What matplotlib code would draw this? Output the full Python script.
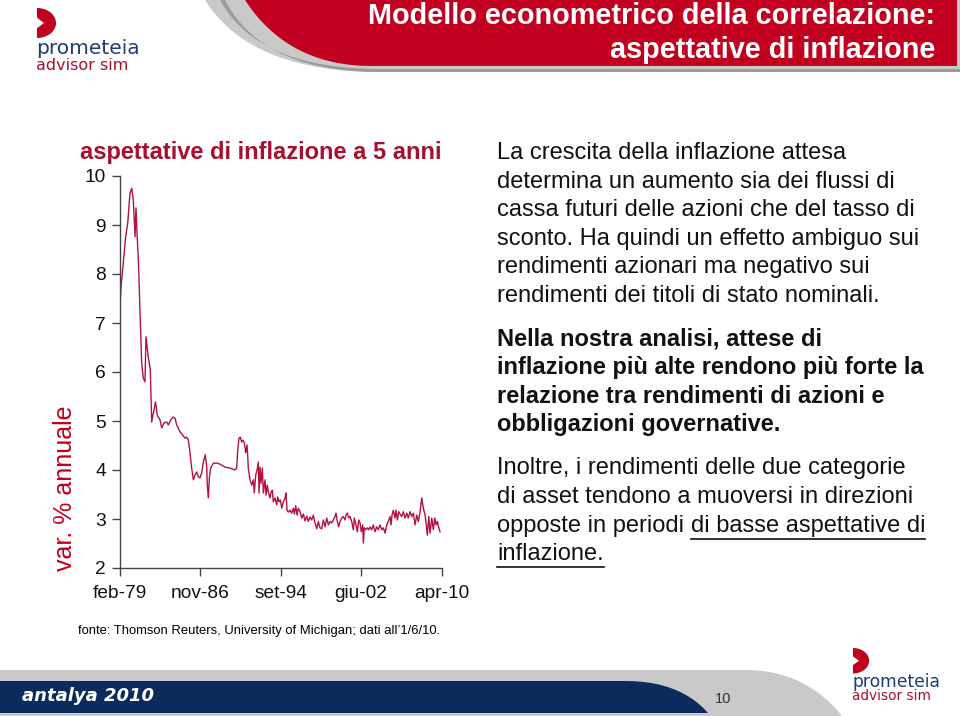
import matplotlib
matplotlib.use("Agg")
import matplotlib.pyplot as plt
import numpy as np
from matplotlib.patches import Polygon, Ellipse, Rectangle

plt.rcParams['font.family'] = ['Liberation Sans', 'DejaVu Sans']

# ---------------- data ----------------
years = [
    1979.08, 1979.18, 1979.40, 1979.63, 1979.83, 1980.05, 1980.22, 1980.37, 1980.54, 1980.63,
    1980.73, 1980.86, 1981.05, 1981.18, 1981.34, 1981.50, 1981.60, 1981.82, 1982.02, 1982.15,
    1982.37, 1982.52, 1982.69, 1982.96, 1983.12, 1983.34, 1983.60, 1983.76, 1983.99, 1984.24,
    1984.41, 1984.57, 1984.89, 1985.15, 1985.38, 1985.54, 1985.70, 1985.86, 1986.02, 1986.18,
    1986.34, 1986.51, 1986.66, 1986.83, 1986.99, 1987.15, 1987.34, 1987.48, 1987.53, 1987.63,
    1987.73, 1987.86, 1988.12, 1988.44, 1988.76, 1989.25, 1989.73, 1990.22, 1990.38, 1990.48,
    1990.60, 1990.73, 1990.86, 1990.99, 1991.12, 1991.25, 1991.38, 1991.45, 1991.50, 1991.67,
    1991.83, 1991.99, 1992.08, 1992.22, 1992.35, 1992.47, 1992.54, 1992.64, 1992.73, 1992.86,
    1992.96, 1993.12, 1993.22, 1993.34, 1993.44, 1993.60, 1993.70, 1993.83, 1993.92, 1994.09,
    1994.25, 1994.35, 1994.48, 1994.60, 1994.74, 1994.89, 1995.06, 1995.15, 1995.25, 1995.38,
    1995.54, 1995.70, 1995.86, 1995.96, 1996.09, 1996.22, 1996.34, 1996.51, 1996.67, 1996.83,
    1996.99, 1997.16, 1997.31, 1997.48, 1997.64, 1997.80, 1997.96, 1998.13, 1998.28, 1998.44,
    1998.61, 1998.76, 1998.93, 1999.09, 1999.25, 1999.41, 1999.58, 1999.73, 1999.90, 1999.99,
    2000.12, 2000.25, 2000.38, 2000.55, 2000.70, 2000.86, 2000.96, 2001.09, 2001.22, 2001.35,
    2001.51, 2001.67, 2001.77, 2001.93, 2002.06, 2002.19, 2002.32, 2002.44, 2002.58, 2002.64,
    2002.73, 2002.90, 2003.02, 2003.16, 2003.28, 2003.45, 2003.60, 2003.77, 2003.93, 2004.09,
    2004.25, 2004.42, 2004.57, 2004.74, 2004.90, 2005.06, 2005.22, 2005.32, 2005.41, 2005.54,
    2005.70, 2005.80, 2005.93, 2006.06, 2006.19, 2006.35, 2006.51, 2006.67, 2006.84, 2006.99,
    2007.16, 2007.32, 2007.48, 2007.64, 2007.81, 2007.96, 2008.13, 2008.29, 2008.44, 2008.61,
    2008.71, 2008.83, 2008.97, 2009.09, 2009.26, 2009.41, 2009.55, 2009.67, 2009.80, 2009.94,
    2010.06,
]
expectations = [
    7.31, 7.73, 8.22, 8.76, 9.04, 9.65, 9.75, 9.51, 8.76, 9.35,
    8.84, 8.29, 7.06, 6.18, 5.88, 5.80, 6.72, 6.31, 6.04, 4.98,
    5.22, 5.39, 5.12, 5.02, 4.86, 4.96, 4.98, 4.92, 5.02, 5.08,
    5.06, 4.92, 4.78, 4.71, 4.65, 4.67, 4.61, 4.35, 4.04, 3.80,
    3.90, 3.96, 3.86, 3.84, 3.94, 4.16, 4.31, 4.06, 3.70, 3.43,
    3.84, 4.04, 4.14, 4.14, 4.12, 4.06, 4.04, 4.00, 4.04, 4.41,
    4.65, 4.67, 4.57, 4.61, 4.55, 4.35, 4.51, 4.27, 4.04, 3.80,
    3.69, 3.80, 3.53, 3.90, 4.00, 4.16, 3.53, 4.06, 3.73, 4.04,
    3.53, 3.80, 3.49, 3.69, 3.55, 3.43, 3.55, 3.59, 3.35, 3.43,
    3.29, 3.45, 3.35, 3.39, 3.22, 3.35, 3.43, 3.53, 3.18, 3.14,
    3.18, 3.12, 3.22, 3.10, 3.27, 3.08, 3.22, 3.15, 3.02, 3.10,
    2.96, 3.06, 2.95, 3.04, 2.98, 3.08, 2.92, 2.80, 2.95, 2.82,
    2.80, 2.98, 2.84, 3.02, 2.88, 2.95, 2.92, 2.98, 3.05, 3.12,
    2.95, 2.84, 2.95, 3.02, 3.05, 2.98, 3.08, 3.12, 3.02, 3.05,
    2.95, 2.78, 3.02, 2.88, 2.74, 2.98, 2.92, 2.74, 2.88, 2.51,
    2.82, 2.78, 2.82, 2.78, 2.84, 2.78, 2.88, 2.74, 2.84, 2.78,
    2.88, 2.78, 2.82, 2.71, 2.88, 2.95, 3.05, 2.88, 3.08, 3.18,
    3.02, 3.18, 2.98, 3.15, 3.10, 3.05, 3.15, 3.02, 3.12, 3.02,
    3.15, 3.05, 3.12, 2.88, 3.08, 2.95, 3.15, 3.43, 3.22, 3.08,
    2.92, 2.67, 3.05, 2.71, 3.02, 2.78, 3.02, 2.88, 2.95, 2.82,
    2.74,
]
tick_years = [1979 + 1/12, 1986 + 10/12, 1994 + 8/12, 2002 + 5/12, 2010 + 3/12]
tick_labels = ["feb-79", "nov-86", "set-94", "giu-02", "apr-10"]
y_ticks = [2, 3, 4, 5, 6, 7, 8, 9, 10]

title_lines = ["Modello econometrico della correlazione:", "aspettative di inflazione"]
chart_title = "aspettative di inflazione a 5 anni"
y_label = "var. % annuale"
source = "fonte: Thomson Reuters, University of Michigan; dati all\u20191/6/10."

para1 = ["La crescita della inflazione attesa",
         "determina un aumento sia dei flussi di",
         "cassa futuri delle azioni che del tasso di",
         "sconto. Ha quindi un effetto ambiguo sui",
         "rendimenti azionari ma negativo sui",
         "rendimenti dei titoli di stato nominali."]
para2 = ["Nella nostra analisi, attese di",
         "inflazione più alte rendono più forte la",
         "relazione tra rendimenti di azioni e",
         "obbligazioni governative."]
para3 = ["Inoltre, i rendimenti delle due categorie",
         "di asset tendono a muoversi in direzioni"]

# ---------------- colours ----------------
RED = "#C0001E"
DARKRED = "#A80F2E"
LINE = "#B3123F"
NAVY = "#0B2B5C"
GRAY = "#C9C9C9"
BLUE = "#1D3E6E"

W, H = 960, 716
fig = plt.figure(figsize=(W/100, H/100), dpi=100)

bg = fig.add_axes([0, 0, 1, 1], zorder=0)
bg.set_xlim(0, W)
bg.set_ylim(H, 0)
bg.axis('off')

def qbez(p0, p1, p2, n=40):
    t = np.linspace(0, 1, n)[:, None]
    p0, p1, p2 = map(np.array, (p0, p1, p2))
    return (1-t)**2*p0 + 2*(1-t)*t*p1 + t**2*p2

# top banner
gray_top = np.vstack([qbez((205, 0), (250, 72), (380, 72)), [(W, 72), (W, 0)]])
bg.add_patch(Polygon(gray_top, closed=True, fc=GRAY, ec="none"))
bg.add_patch(Polygon(np.vstack([qbez((225, 0), (262, 72), (380, 72)), [(W, 72), (W, 69), (380, 69)],
                                 qbez((380, 69), (258, 69), (220, 0))]),
                     closed=True, fc="#9A9A9A", ec="none"))
red_top = np.vstack([qbez((245, 0), (288, 66), (372, 66)), [(957, 66), (957, 0)]])
bg.add_patch(Polygon(red_top, closed=True, fc=RED, ec="none"))

for i, line in enumerate(title_lines):
    bg.text(935, 16 + 34*i, line, ha='right', va='center', color='white',
            fontsize=20.8, fontweight='bold')

# logos
def logo(x, y, s):
    bg.add_patch(Ellipse((x, y + 15*s), 38*s, 30*s, fc=RED, ec='none'))
    bg.add_patch(Rectangle((x - 20*s, y - 1*s), 20*s, 33*s, fc='white', ec='none'))
    bg.add_patch(Polygon([(x - 1, y + 9*s), (x + 7*s, y + 15*s), (x - 1, y + 21*s)],
                         closed=True, fc='white', ec='none'))
    bg.text(x - 1, y + 40*s, "prometeia", color=BLUE, fontsize=14.5*s,
            family='DejaVu Sans', va='center', ha='left')
    bg.text(x - 1, y + 57*s, "advisor sim", color=DARKRED, fontsize=11.5*s,
            family='DejaVu Sans', va='center', ha='left')

logo(37, 8, 1.0)
logo(853, 648, 0.85)

# bottom bands
gray_bot = np.vstack([[(0, 670), (745, 670)], qbez((745, 670), (805, 670), (842, 716)), [(0, 716)]])
bg.add_patch(Polygon(gray_bot, closed=True, fc=GRAY, ec='none'))
navy_bot = np.vstack([[(0, 681), (625, 681)], qbez((625, 681), (680, 681), (708, 713)), [(0, 713)]])
bg.add_patch(Polygon(navy_bot, closed=True, fc=NAVY, ec='none'))
bg.text(22, 696, "antalya 2010", color='white', fontsize=13, fontweight='heavy',
        style='italic', family='DejaVu Sans', va='center', ha='left')
bg.text(723, 699, "10", color='#333333', fontsize=10.5, va='center', ha='center')

# chart title, y label, source
bg.text(80, 153, chart_title, color=DARKRED, fontsize=17, fontweight='bold',
        va='center', ha='left')
bg.text(65, 488, y_label, color=RED, fontsize=18, rotation=90, va='center', ha='center')
bg.text(78, 631, source, color='black', fontsize=9.4, va='center', ha='left')

# right-hand text
TXT = '#111111'
FS = 17
y = 153
for line in para1:
    bg.text(497, y, line, fontsize=FS, color=TXT, va='center', ha='left')
    y += 28.6
y = 339
for line in para2:
    bg.text(497, y, line, fontsize=FS, color=TXT, va='center', ha='left', fontweight='bold')
    y += 28.6
y = 468
for line in para3:
    bg.text(497, y, line, fontsize=FS, color=TXT, va='center', ha='left')
    y += 28.6

renderer = fig.canvas.get_renderer()
inv = bg.transData.inverted()
t1 = bg.text(497, 526, "opposte in periodi ", fontsize=FS, color=TXT, va='center', ha='left')
x_start = inv.transform((t1.get_window_extent(renderer).x1, 0))[0]
t2 = bg.text(x_start, 526, "di basse aspettative di", fontsize=FS, color=TXT, va='center', ha='left')
x_end = inv.transform((t2.get_window_extent(renderer).x1, 0))[0]
bg.plot([x_start, x_end], [539, 539], color=TXT, lw=1.2)
t3 = bg.text(497, 554, "inflazione.", fontsize=FS, color=TXT, va='center', ha='left')
bg.plot([497, inv.transform((t3.get_window_extent(renderer).x1, 0))[0]], [567, 567], color=TXT, lw=1.2)

# ---------------- chart ----------------
left, right, top, bottom = 120, 442, 176, 568
ax = fig.add_axes([left/W, 1 - bottom/H, (right-left)/W, (bottom-top)/H], zorder=2)
ax.patch.set_alpha(0)
ax.plot(years, expectations, color=LINE, lw=1.0)
ax.set_xlim(tick_years[0], tick_years[-1])
ax.set_ylim(2, 10)
ax.set_xticks(tick_years)
ax.set_xticklabels(tick_labels)
ax.set_yticks(y_ticks)
for s in ('top', 'right'):
    ax.spines[s].set_visible(False)
for s in ('left', 'bottom'):
    ax.spines[s].set_color('#444444')
    ax.spines[s].set_linewidth(1.0)
ax.tick_params(axis='both', direction='out', length=6, width=1, color='#444444',
               labelsize=13.8, labelcolor='#111111')
ax.tick_params(axis='x', pad=6)
ax.tick_params(axis='y', pad=4)

fig.savefig("out.png", dpi=100)
